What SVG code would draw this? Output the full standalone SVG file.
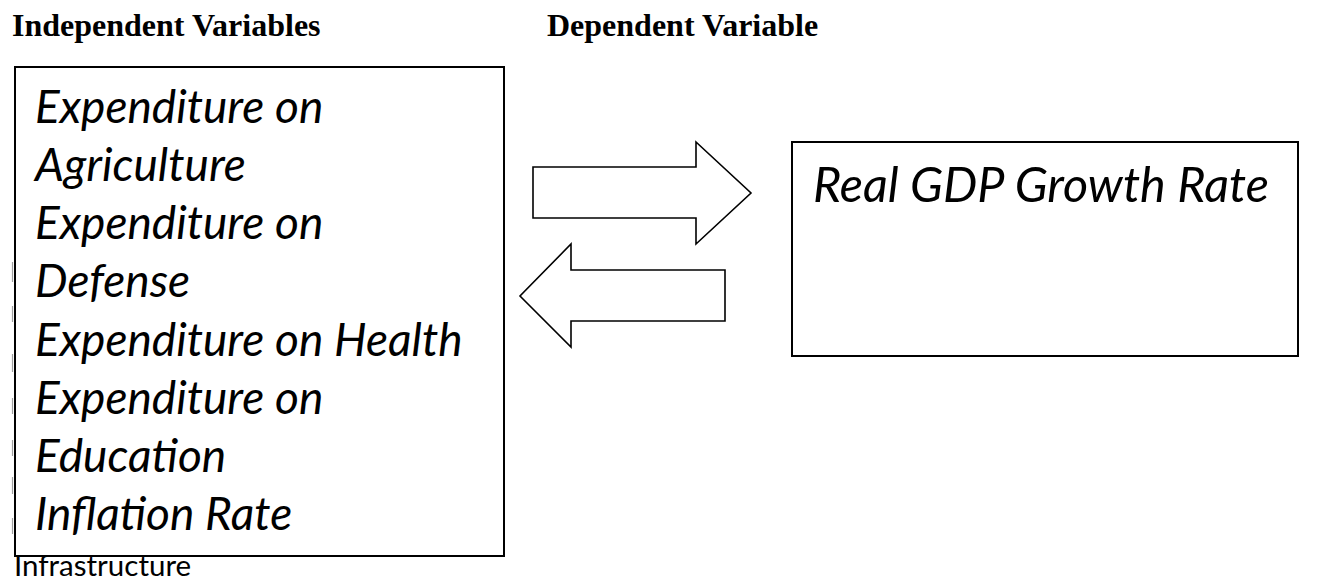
<svg xmlns="http://www.w3.org/2000/svg" width="1335" height="578" viewBox="0 0 1335 578">
<style>
.hd{font-family:"Liberation Serif","Times New Roman",serif;font-weight:bold;font-size:32px;fill:#000}
.it{font-family:Lato,"Open Sans",sans-serif;font-style:italic;font-size:46px;fill:#000}
.box{fill:#fff;stroke:#000;stroke-width:2}
.arr{fill:#fff;stroke:#000;stroke-width:1.6;stroke-linejoin:miter}
.tick{stroke:#a0a0a0;stroke-width:1.2}
.reg{font-family:Lato,"Open Sans",sans-serif;font-size:29.5px;fill:#000}
</style>
<rect width="1335" height="578" fill="#fff"/>
<text class="hd" x="12" y="36">Independent Variables</text>
<text class="hd" x="547" y="36">Dependent Variable</text>
<g id="independent">
<rect class="box" x="15" y="67" width="489" height="489"/>
<text class="it" x="35" y="123">Expenditure on</text>
<text class="it" x="35" y="181">Agriculture</text>
<text class="it" x="35" y="239">Expenditure on</text>
<text class="it" x="35" y="297">Defense</text>
<text class="it" x="35" y="356">Expenditure on Health</text>
<text class="it" x="35" y="414">Expenditure on</text>
<text class="it" x="35" y="472">Education</text>
<text class="it" x="35" y="530">Inflation Rate</text>
</g>
<g id="ticks">
<line class="tick" x1="12.5" y1="262" x2="12.5" y2="282"/>
<line class="tick" x1="12.5" y1="306" x2="12.5" y2="322"/>
<line class="tick" x1="12.5" y1="354" x2="12.5" y2="372"/>
<line class="tick" x1="12.5" y1="398" x2="12.5" y2="414"/>
<line class="tick" x1="12.5" y1="440" x2="12.5" y2="456"/>
<line class="tick" x1="12.5" y1="477" x2="12.5" y2="494"/>
<line class="tick" x1="12.5" y1="518" x2="12.5" y2="534"/>
</g>
<g id="dependent">
<rect class="box" x="792" y="142" width="506" height="214"/>
<text class="it" x="813" y="202" style="font-size:48.5px">Real GDP Growth Rate</text>
</g>
<g id="connectors">
<polygon class="arr" points="533,167 696,167 696,142 751,193 696,244 696,218 533,218"/>
<polygon class="arr" points="725,270 571,270 571,244 520,296 571,347 571,321 725,321"/>
</g>
<text class="reg" x="14" y="576">Infrastructure</text>
</svg>
